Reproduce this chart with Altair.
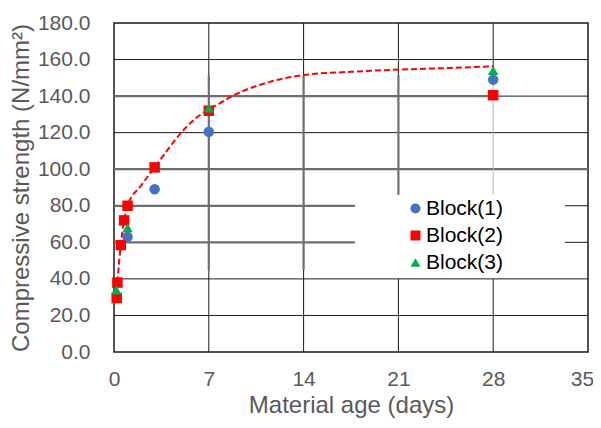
import altair as alt
import pandas as pd

# ---- data ----
series_names = ["Block(1)", "Block(2)", "Block(3)"]
series_colors = ["#4472C4", "#FF0000", "#00B050"]
series_shapes = ["circle", "square", "triangle-up"]

block1_age = [1, 3, 7, 28]
block1_strength = [63, 89, 120.5, 149]
block2_age = [0.2, 0.25, 0.5, 0.75, 1, 3, 7, 28]
block2_strength = [29.5, 38, 58.5, 72, 80, 101, 132, 140.5]
block3_age = [0.17, 1, 7, 28]
block3_strength = [34, 68, 133.5, 154]

trend_age = [0.25, 0.5, 0.75, 1.0, 2.0, 3.0, 4.1, 4.9, 5.9, 6.9, 7.8, 8.8, 9.8, 11.5, 14, 17.5, 21, 24.8, 28]
trend_strength = [38, 58.5, 72, 80, 91, 101, 112, 119.5, 127, 132.3, 136, 140.3, 143.6, 147.8, 151.5, 153.3, 154.5, 155.4, 156.3]

x_ticks = [0, 7, 14, 21, 28, 35]
y_ticks = [0, 20, 40, 60, 80, 100, 120, 140, 160, 180]

# grid segments (x1, y1, x2, y2) in data units
grid_black = [
    (7, 151.5, 7, 180), (7, 0, 7, 44.9),
    (14, 151.5, 14, 180), (14, 0, 14, 44.9),
    (21, 151.5, 21, 180), (21, 0, 21, 40),
    (28, 151.5, 28, 180), (28, 0, 28, 40),
    (0, 20, 35, 20), (0, 40, 35, 40),
    (33.3, 60, 35, 60), (33.3, 80, 35, 80),
    (0, 120, 35, 120), (28, 140, 35, 140), (0, 160, 35, 160),
]
grid_gray = [
    (7, 44.9, 7, 151.5), (14, 44.9, 14, 151.5), (21, 86, 21, 151.5),
    (0, 140, 28, 140), (0, 100, 35, 100),
    (0, 80, 17.8, 80), (0, 60, 17.8, 60),
]
grid_light = [(28, 86, 28, 151.5)]

FONT = "Liberation Sans"
xs = alt.Scale(domain=[0, 35], nice=False, zero=False)
ys = alt.Scale(domain=[0, 180], nice=False, zero=False)
xaxis = alt.Axis(values=x_ticks, title="Material age (days)", grid=False, ticks=False, domain=False,
                 labelFlush=False, labelOverlap=False,
                 labelOffset={"condition": {"test": "datum.value == 35", "value": -6}, "value": 0},
                 labelFontSize=21, labelFont=FONT, labelColor="#595959", labelPadding=16,
                 titleFontSize=24, titleFont=FONT, titleColor="#595959", titleFontWeight="normal",
                 titlePadding=4)
yaxis = alt.Axis(values=y_ticks, format=".1f", title="Compressive strength (N/mm²)", grid=False,
                 ticks=False, domain=False, labelFlush=False, labelOverlap=False,
                 labelFontSize=21, labelFont=FONT, labelColor="#595959",
                 labelPadding=24, titleFontSize=24, titleFont=FONT, titleColor="#595959",
                 titleFontWeight="normal", titlePadding=4)


def seg_df(segs):
    return pd.DataFrame(segs, columns=["x", "y", "x2", "y2"])


def rules(segs, color, width):
    return alt.Chart(seg_df(segs)).mark_rule(color=color, strokeWidth=width).encode(
        x=alt.X("x:Q", scale=xs, axis=xaxis),
        y=alt.Y("y:Q", scale=ys, axis=yaxis),
        x2="x2:Q", y2="y2:Q",
    )


rows = []
for name, ages, vals in [(series_names[0], block1_age, block1_strength),
                         (series_names[1], block2_age, block2_strength),
                         (series_names[2], block3_age, block3_strength)]:
    for a, v in zip(ages, vals):
        rows.append({"series": name, "x": a, "y": v})
points_df = pd.DataFrame(rows)

trend_df = pd.DataFrame({"x": trend_age, "y": trend_strength})

trend = alt.Chart(trend_df).mark_line(color="#FF0000", strokeWidth=2, strokeDash=[6, 3],
                                      interpolate="monotone").encode(
    x=alt.X("x:Q", scale=xs, axis=xaxis),
    y=alt.Y("y:Q", scale=ys, axis=yaxis),
)

points = alt.Chart(points_df).mark_point(filled=True, opacity=1, size=110).encode(
    x=alt.X("x:Q", scale=xs, axis=xaxis),
    y=alt.Y("y:Q", scale=ys, axis=yaxis),
    color=alt.Color("series:N", scale=alt.Scale(domain=series_names, range=series_colors),
                    legend=alt.Legend(title=None)),
    shape=alt.Shape("series:N", scale=alt.Scale(domain=series_names, range=series_shapes),
                    legend=alt.Legend(title=None)),
)

chart = alt.layer(
    rules(grid_black, "#1a1a1a", 1),
    rules(grid_gray, "#6e6e6e", 2.2),
    rules(grid_light, "#b5b5b5", 1),
    trend,
    points,
).properties(
    width=474, height=329,
    padding={"left": 106, "top": 15, "right": 5, "bottom": 68},
    autosize=alt.AutoSizeParams(type="none"),
).configure_view(
    stroke="#1a1a1a", strokeWidth=1.5
).configure_legend(
    orient="none", legendX=291, legendY=175, padding=0, offset=0,
    labelFont=FONT, labelFontSize=21, labelColor="#000000", symbolSize=100,
    symbolStrokeWidth=0, rowPadding=5, labelOffset=0, symbolOpacity=1,
)

chart.save("out.html", embed_options={"renderer": "svg", "actions": False})
